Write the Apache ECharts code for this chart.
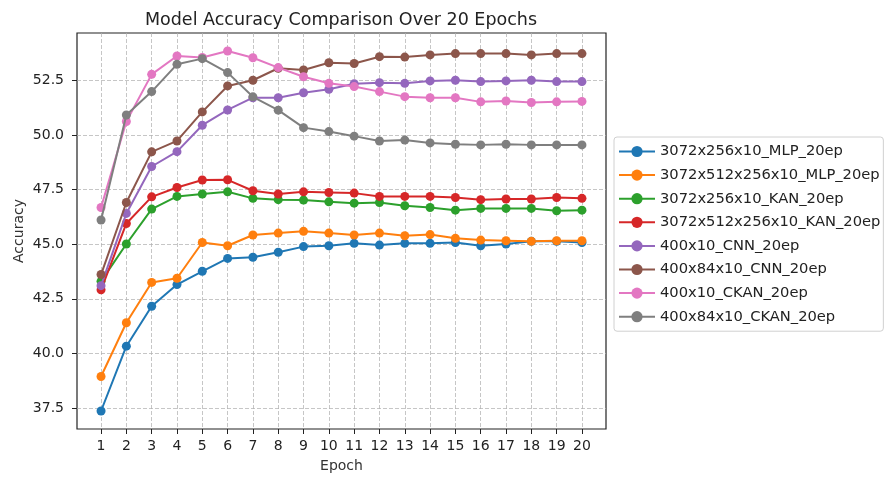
<!DOCTYPE html>
<html>
<head>
<meta charset="utf-8">
<script src="https://cdn.jsdelivr.net/npm/echarts@6/dist/echarts.min.js"></script>
<style>
  html, body { margin: 0; padding: 0; background: #fff; }
  #chart { width: 885px; height: 479px; }
</style>
</head>
<body>
<div id="chart"></div>
<script>
// Accuracy per epoch for each model
const epochs = [1,2,3,4,5,6,7,8,9,10,11,12,13,14,15,16,17,18,19,20];
const yTicks = [37.5, 40.0, 42.5, 45.0, 47.5, 50.0, 52.5];

const seriesNames = [
  '3072x256x10_MLP_20ep',
  '3072x512x256x10_MLP_20ep',
  '3072x256x10_KAN_20ep',
  '3072x512x256x10_KAN_20ep',
  '400x10_CNN_20ep',
  '400x84x10_CNN_20ep',
  '400x10_CKAN_20ep',
  '400x84x10_CKAN_20ep'
];

const mlp256 = [37.36, 40.33, 42.16, 43.15, 43.76, 44.35, 44.40, 44.63, 44.89, 44.93,
                45.04, 44.96, 45.04, 45.04, 45.08, 44.93, 45.01, 45.13, 45.13, 45.08];
const mlp512 = [38.94, 41.40, 43.25, 43.44, 45.08, 44.93, 45.42, 45.51, 45.59, 45.51,
                45.42, 45.51, 45.39, 45.44, 45.27, 45.19, 45.16, 45.13, 45.16, 45.16];
const kan256 = [43.30, 45.01, 46.61, 47.19, 47.30, 47.40, 47.10, 47.04, 47.02, 46.94,
                46.88, 46.91, 46.76, 46.68, 46.56, 46.64, 46.64, 46.64, 46.53, 46.56];
const kan512 = [42.91, 45.95, 47.17, 47.60, 47.94, 47.95, 47.45, 47.30, 47.40, 47.37,
                47.34, 47.19, 47.19, 47.19, 47.14, 47.04, 47.07, 47.07, 47.14, 47.10];
const cnnSmall = [43.10, 46.41, 48.56, 49.24, 50.45, 51.15, 51.71, 51.71, 51.94, 52.10,
                  52.35, 52.40, 52.37, 52.48, 52.51, 52.45, 52.48, 52.51, 52.45, 52.45];
const cnnLarge = [43.61, 46.91, 49.23, 49.73, 51.06, 52.25, 52.51, 53.06, 52.98, 53.31,
                  53.28, 53.59, 53.57, 53.67, 53.73, 53.73, 53.73, 53.67, 53.73, 53.73];
const ckanSmall = [46.68, 50.62, 52.78, 53.62, 53.55, 53.85, 53.54, 53.09, 52.67, 52.37,
                   52.22, 51.99, 51.76, 51.71, 51.71, 51.52, 51.56, 51.49, 51.52, 51.54];
const ckanLarge = [46.11, 50.92, 51.99, 53.24, 53.50, 52.86, 51.75, 51.14, 50.34, 50.16,
                   49.95, 49.73, 49.77, 49.64, 49.58, 49.55, 49.58, 49.55, 49.55, 49.55];

const seriesValues = [mlp256, mlp512, kan256, kan512, cnnSmall, cnnLarge, ckanSmall, ckanLarge];
const palette = ['#1f77b4', '#ff7f0e', '#2ca02c', '#d62728', '#9467bd', '#8c564b', '#e377c2', '#7f7f7f'];

const FONT = 'DejaVu Sans';

// Axis limits padded by 5% of the data span on each side
const allVals = seriesValues.flat();
const vMin = Math.min(...allVals), vMax = Math.max(...allVals);
const yPad = (vMax - vMin) * 0.05;
const xPad = (epochs[epochs.length - 1] - epochs[0]) * 0.05;

const gridLine = { show: true, lineStyle: { color: '#b0b0b0', type: [4, 2], width: 0.9, opacity: 0.8 } };

const series = seriesNames.map((name, i) => ({
  name,
  type: 'line',
  data: epochs.map((e, j) => [e, seriesValues[i][j]]),
  symbol: 'circle',
  symbolSize: 9,
  showSymbol: true,
  lineStyle: { width: 2, color: palette[i] },
  itemStyle: { color: palette[i] },
  emphasis: { disabled: true },
  z: 3 + i
}));

const chart = echarts.init(document.getElementById('chart'), null, { renderer: 'canvas' });
chart.setOption({
  animation: false,
  backgroundColor: '#fff',
  title: {
    text: 'Model Accuracy Comparison Over 20 Epochs',
    left: 336, top: 6, textAlign: 'center',
    textStyle: { fontFamily: FONT, fontSize: 17.5, fontWeight: 'normal', color: '#222' }
  },
  grid: {
    left: 77, right: 279, top: 33, bottom: 50,
    containLabel: false, outerBoundsMode: 'none',
    show: true, borderColor: '#222', borderWidth: 1.2, backgroundColor: 'transparent'
  },
  legend: {
    orient: 'vertical',
    left: 614, top: 137,
    padding: [7, 3, 7, 4],
    itemGap: 8.6,
    itemWidth: 36, itemHeight: 14,
    borderColor: '#d0d0d0', borderWidth: 1, borderRadius: 3,
    backgroundColor: '#fff',
    textStyle: { fontFamily: FONT, fontSize: 14.7, color: '#222' },
    data: seriesNames
  },
  xAxis: {
    type: 'value',
    min: epochs[0] - xPad, max: epochs[epochs.length - 1] + xPad,
    name: 'Epoch', nameLocation: 'middle', nameGap: 30, nameMoveOverlap: false,
    nameTextStyle: { fontFamily: FONT, fontSize: 14, color: '#333' },
    axisLine: { show: false },
    axisTick: { show: true, inside: false, length: 5, customValues: epochs, lineStyle: { color: '#222' } },
    axisLabel: { customValues: epochs, fontFamily: FONT, fontSize: 14, color: '#222', margin: 10 },
    splitLine: gridLine
  },
  yAxis: {
    type: 'value',
    min: vMin - yPad, max: vMax + yPad,
    name: 'Accuracy', nameLocation: 'middle', nameGap: 51, nameMoveOverlap: false,
    nameTextStyle: { fontFamily: FONT, fontSize: 14, color: '#333' },
    axisLine: { show: false },
    axisTick: { show: true, inside: false, length: 5, customValues: yTicks, lineStyle: { color: '#222' } },
    axisLabel: { customValues: yTicks, formatter: v => v.toFixed(1), fontFamily: FONT, fontSize: 14, color: '#222', margin: 13 },
    splitLine: gridLine
  },
  series
});
</script>
</body>
</html>
